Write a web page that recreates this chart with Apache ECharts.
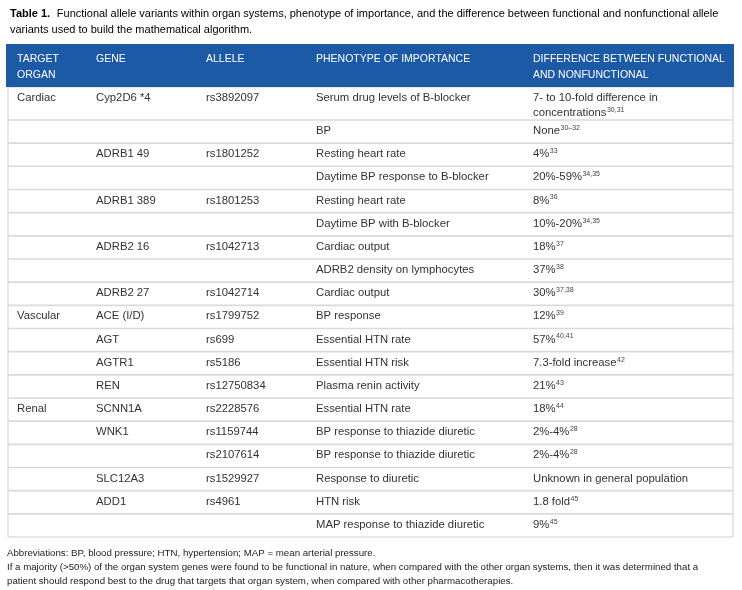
<!DOCTYPE html>
<html><head><meta charset="utf-8">
<script src="https://cdn.jsdelivr.net/npm/echarts@6/dist/echarts.min.js"></script>
<style>html,body{margin:0;padding:0;background:#fff}#c{width:742px;height:590px}</style>
</head><body><div id="c"></div>
<script>
// ---- table content ----
var headers = ['TARGET\nORGAN', 'GENE', 'ALLELE', 'PHENOTYPE OF IMPORTANCE', 'DIFFERENCE BETWEEN FUNCTIONAL\nAND NONFUNCTIONAL'];
var organs = ['Cardiac','','','','','','','','','Vascular','','','','Renal','','','','',''];
var genes = ['Cyp2D6 *4','','ADRB1 49','','ADRB1 389','','ADRB2 16','','ADRB2 27','ACE (I/D)','AGT','AGTR1','REN','SCNN1A','WNK1','','SLC12A3','ADD1',''];
var alleles = ['rs3892097','','rs1801252','','rs1801253','','rs1042713','','rs1042714','rs1799752','rs699','rs5186','rs12750834','rs2228576','rs1159744','rs2107614','rs1529927','rs4961',''];
var phenotypes = ['Serum drug levels of B-blocker','BP','Resting heart rate','Daytime BP response to B-blocker','Resting heart rate','Daytime BP with B-blocker','Cardiac output','ADRB2 density on lymphocytes','Cardiac output','BP response','Essential HTN rate','Essential HTN risk','Plasma renin activity','Essential HTN rate','BP response to thiazide diuretic','BP response to thiazide diuretic','Response to diuretic','HTN risk','MAP response to thiazide diuretic'];
var differences = ['7- to 10-fold difference in\nconcentrations','None','4%','20%-59%','8%','10%-20%','18%','37%','30%','12%','57%','7.3-fold increase','21%','18%','2%-4%','2%-4%','Unknown in general population','1.8 fold','9%'];
var refs = ['30,31','30\u201332','33','34,35','36','34,35','37','38','37,38','39','40,41','42','43','44','28','28','','45','45'];
var rowLines = [2,1,1,1,1,1,1,1,1,1,1,1,1,1,1,1,1,1,1];
var titleBold = 'Table 1.';
var titleText = 'Functional allele variants within organ systems, phenotype of importance, and the difference between functional and nonfunctional allele\nvariants used to build the mathematical algorithm.';
var footnotes = 'Abbreviations: BP, blood pressure; HTN, hypertension; MAP = mean arterial pressure.\nIf a majority (>50%) of the organ system genes were found to be functional in nature, when compared with the other organ systems, then it was determined that a\npatient should respond best to the drug that targets that organ system, when compared with other pharmacotherapies.';

// ---- layout ----
var colStart = [0, 0.1090, 0.2607, 0.4124, 0.7117]; // fraction of table width
var extraLine = 0.424;
var rows = [], acc = 0;
for (var i = 0; i < organs.length; i++) {
  var span = 1 + (rowLines[i] - 1) * extraLine;
  rows.push([i, acc, acc + span]);
  acc += span;
}
var total = acc;
var FONT = '"Liberation Sans",Arial,Helvetica,sans-serif';
var BODYFONT = '11.3px ' + FONT;
var measureCtx = document.createElement('canvas').getContext('2d');
function textWidth(s, font) { measureCtx.font = font; return measureCtx.measureText(s).width; }
var chart = echarts.init(document.getElementById('c'), null, {renderer: 'canvas'});

function renderRow(params, api) {
  var idx = api.value(0);
  var p0 = api.coord([0, api.value(1)]);
  var p1 = api.coord([1, api.value(2)]);
  var left = p0[0], right = p1[0], top = p0[1], bottom = p1[1];
  var w = right - left;
  var cells = [organs[idx], genes[idx], alleles[idx], phenotypes[idx]];
  var children = [];
  for (var c = 0; c < 4; c++) {
    if (!cells[c]) continue;
    children.push({type: 'text', style: {x: left + colStart[c] * w + 9, y: top + 11, text: cells[c], fill: '#333', font: BODYFONT, verticalAlign: 'middle'}});
  }
  var lines = differences[idx].split('\n');
  var x5 = left + colStart[4] * w + 9;
  lines.forEach(function (s, k) {
    var y = top + 11 + k * 15;
    children.push({type: 'text', style: {x: x5, y: y, text: s, fill: '#333', font: BODYFONT, verticalAlign: 'middle'}});
    if (k === lines.length - 1 && refs[idx]) {
      children.push({type: 'text', style: {x: x5 + textWidth(s, BODYFONT) + 0.5, y: y - 3, text: refs[idx], fill: '#444', font: '7px ' + FONT, verticalAlign: 'middle'}});
    }
  });
  if (idx < organs.length - 1) {
    children.push({type: 'line', shape: {x1: left, y1: bottom, x2: right, y2: bottom}, style: {stroke: '#dadada', lineWidth: 1.6}});
  }
  return {type: 'group', children: children};
}

var headerChildren = [{type: 'rect', shape: {x: 6, y: 44, width: 728, height: 43}, style: {fill: '#1c5aa6'}}];
headers.forEach(function (h, c) {
  headerChildren.push({type: 'text', style: {x: 8 + colStart[c] * 725 + 9, y: 51, text: h, fill: '#fff', font: '10.5px ' + FONT, lineHeight: 16, verticalAlign: 'top'}});
});

chart.setOption({
  animation: false,
  grid: {left: 8, right: 9, top: 87, bottom: 53, show: true, borderColor: '#cfcfcf', borderWidth: 1, backgroundColor: '#fff'},
  xAxis: {type: 'value', min: 0, max: 1, show: false},
  yAxis: {type: 'value', min: 0, max: total, inverse: true, show: false},
  graphic: [
    {type: 'text', left: 10, top: 8, style: {text: '{b|' + titleBold + '}  {t|' + titleText.split('\n')[0] + '}\n{t|' + titleText.split('\n')[1] + '}',
      rich: {b: {fontFamily: FONT, fontWeight: 'bold', fontSize: 11, lineHeight: 16, color: '#222'}, t: {fontFamily: FONT, fontSize: 11, lineHeight: 16, color: '#222'}}}},
    {type: 'group', children: headerChildren},
    {type: 'text', left: 7, top: 546, style: {text: footnotes, font: '9.7px ' + FONT, lineHeight: 14, fill: '#222'}}
  ],
  series: [{type: 'custom', renderItem: renderRow, data: rows, encode: {x: -1, y: [1, 2]}, clip: false}]
});
</script></body></html>
